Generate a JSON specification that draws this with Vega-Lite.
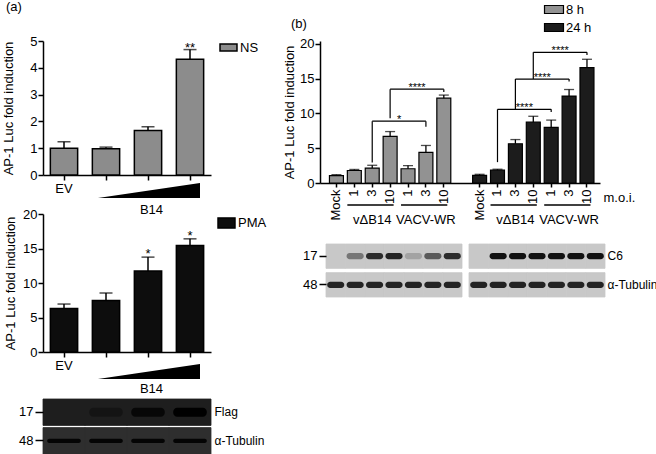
{
  "$schema": "https://vega.github.io/schema/vega-lite/v6.json",
  "background": "white",
  "padding": {"left": 2, "top": 1, "right": 0, "bottom": 0},
  "bounds": "flush",
  "columns": 2,
  "spacing": {"row": 0, "column": 109},
  "datasets": {
    "barsA1": [
      {"construct": "EV", "stimulus": "NS", "fold": 1.0, "upper": 1.24, "sig": ""},
      {"construct": "B14 low", "stimulus": "NS", "fold": 0.98, "upper": 1.04, "sig": ""},
      {"construct": "B14 mid", "stimulus": "NS", "fold": 1.66, "upper": 1.8, "sig": ""},
      {"construct": "B14 high", "stimulus": "NS", "fold": 4.32, "upper": 4.68, "sig": "**"}
    ],
    "barsA2": [
      {"construct": "EV", "stimulus": "PMA", "fold": 6.3, "upper": 6.95, "sig": ""},
      {"construct": "B14 low", "stimulus": "PMA", "fold": 7.45, "upper": 8.55, "sig": ""},
      {"construct": "B14 mid", "stimulus": "PMA", "fold": 11.75, "upper": 13.75, "sig": "*"},
      {"construct": "B14 high", "stimulus": "PMA", "fold": 15.45, "upper": 16.4, "sig": "*"}
    ],
    "wedge": [{"dose": 0}, {"dose": 1}],
    "empty": [],
    "blotA": [
      {"protein": "Flag", "lane": "EV", "intensity": 0.0},
      {"protein": "Flag", "lane": "B14 low", "intensity": 0.3},
      {"protein": "Flag", "lane": "B14 mid", "intensity": 0.75},
      {"protein": "Flag", "lane": "B14 high", "intensity": 1.0},
      {"protein": "α-Tubulin", "lane": "EV", "intensity": 0.9},
      {"protein": "α-Tubulin", "lane": "B14 low", "intensity": 0.9},
      {"protein": "α-Tubulin", "lane": "B14 mid", "intensity": 0.9},
      {"protein": "α-Tubulin", "lane": "B14 high", "intensity": 0.9}
    ],
    "barsB": [
      {"cond": "8h Mock", "time": "8 h", "fold": 1.05, "upper": 1.2},
      {"cond": "8h vΔB14 1", "time": "8 h", "fold": 1.8, "upper": 1.95},
      {"cond": "8h vΔB14 3", "time": "8 h", "fold": 2.15, "upper": 2.55},
      {"cond": "8h vΔB14 10", "time": "8 h", "fold": 6.7, "upper": 7.4},
      {"cond": "8h VACV-WR 1", "time": "8 h", "fold": 2.05, "upper": 2.5},
      {"cond": "8h VACV-WR 3", "time": "8 h", "fold": 4.4, "upper": 5.4},
      {"cond": "8h VACV-WR 10", "time": "8 h", "fold": 12.2, "upper": 12.65},
      {"cond": "24h Mock", "time": "24 h", "fold": 1.1, "upper": 1.25},
      {"cond": "24h vΔB14 1", "time": "24 h", "fold": 1.85, "upper": 1.98},
      {"cond": "24h vΔB14 3", "time": "24 h", "fold": 5.65, "upper": 6.25},
      {"cond": "24h vΔB14 10", "time": "24 h", "fold": 8.75, "upper": 9.6},
      {"cond": "24h VACV-WR 1", "time": "24 h", "fold": 8.0, "upper": 9.05},
      {"cond": "24h VACV-WR 3", "time": "24 h", "fold": 12.5, "upper": 13.45},
      {"cond": "24h VACV-WR 10", "time": "24 h", "fold": 16.6, "upper": 17.8}
    ],
    "brackets": [
      {"from": "8h vΔB14 3", "to": "8h VACV-WR 3", "mid": "8h vΔB14 10", "level": 8.9, "leftEnd": 2.95, "rightEnd": 8.1, "label": "*"},
      {"from": "8h vΔB14 10", "to": "8h VACV-WR 10", "mid": "8h VACV-WR 1", "level": 13.5, "leftEnd": 9.3, "rightEnd": 13.1, "label": "****"},
      {"from": "24h vΔB14 1", "to": "24h VACV-WR 1", "mid": "24h vΔB14 3", "level": 10.6, "leftEnd": 3.0, "rightEnd": 10.2, "label": "****"},
      {"from": "24h vΔB14 3", "to": "24h VACV-WR 3", "mid": "24h vΔB14 10", "level": 14.95, "leftEnd": 10.6, "rightEnd": 14.6, "label": "****"},
      {"from": "24h vΔB14 10", "to": "24h VACV-WR 10", "mid": "24h VACV-WR 1", "level": 18.8, "leftEnd": 14.95, "rightEnd": 18.4, "label": "****"}
    ],
    "groups": [
      {"group": "vΔB14", "start": "8h vΔB14 1", "end": "8h vΔB14 10", "center": "8h vΔB14 3"},
      {"group": "VACV-WR", "start": "8h VACV-WR 1", "end": "8h VACV-WR 10", "center": "8h VACV-WR 3"},
      {"group": "vΔB14", "start": "24h vΔB14 1", "end": "24h vΔB14 10", "center": "24h vΔB14 3"},
      {"group": "VACV-WR", "start": "24h VACV-WR 1", "end": "24h VACV-WR 10", "center": "24h VACV-WR 3"}
    ],
    "blotB": [
      {"time": "8 h", "protein": "C6", "lane": "Mock", "intensity": 0.0},
      {"time": "8 h", "protein": "C6", "lane": "vΔB14 1", "intensity": 0.45},
      {"time": "8 h", "protein": "C6", "lane": "vΔB14 3", "intensity": 0.85},
      {"time": "8 h", "protein": "C6", "lane": "vΔB14 10", "intensity": 0.9},
      {"time": "8 h", "protein": "C6", "lane": "VACV-WR 1", "intensity": 0.2},
      {"time": "8 h", "protein": "C6", "lane": "VACV-WR 3", "intensity": 0.6},
      {"time": "8 h", "protein": "C6", "lane": "VACV-WR 10", "intensity": 0.85},
      {"time": "8 h", "protein": "α-Tubulin", "lane": "Mock", "intensity": 0.9},
      {"time": "8 h", "protein": "α-Tubulin", "lane": "vΔB14 1", "intensity": 0.9},
      {"time": "8 h", "protein": "α-Tubulin", "lane": "vΔB14 3", "intensity": 0.9},
      {"time": "8 h", "protein": "α-Tubulin", "lane": "vΔB14 10", "intensity": 0.9},
      {"time": "8 h", "protein": "α-Tubulin", "lane": "VACV-WR 1", "intensity": 0.9},
      {"time": "8 h", "protein": "α-Tubulin", "lane": "VACV-WR 3", "intensity": 0.9},
      {"time": "8 h", "protein": "α-Tubulin", "lane": "VACV-WR 10", "intensity": 0.9},
      {"time": "24 h", "protein": "C6", "lane": "Mock", "intensity": 0.0},
      {"time": "24 h", "protein": "C6", "lane": "vΔB14 1", "intensity": 1.0},
      {"time": "24 h", "protein": "C6", "lane": "vΔB14 3", "intensity": 1.0},
      {"time": "24 h", "protein": "C6", "lane": "vΔB14 10", "intensity": 1.0},
      {"time": "24 h", "protein": "C6", "lane": "VACV-WR 1", "intensity": 1.0},
      {"time": "24 h", "protein": "C6", "lane": "VACV-WR 3", "intensity": 1.0},
      {"time": "24 h", "protein": "C6", "lane": "VACV-WR 10", "intensity": 1.0},
      {"time": "24 h", "protein": "α-Tubulin", "lane": "Mock", "intensity": 0.9},
      {"time": "24 h", "protein": "α-Tubulin", "lane": "vΔB14 1", "intensity": 0.9},
      {"time": "24 h", "protein": "α-Tubulin", "lane": "vΔB14 3", "intensity": 0.9},
      {"time": "24 h", "protein": "α-Tubulin", "lane": "vΔB14 10", "intensity": 0.9},
      {"time": "24 h", "protein": "α-Tubulin", "lane": "VACV-WR 1", "intensity": 0.9},
      {"time": "24 h", "protein": "α-Tubulin", "lane": "VACV-WR 3", "intensity": 0.9},
      {"time": "24 h", "protein": "α-Tubulin", "lane": "VACV-WR 10", "intensity": 0.9}
    ]
  },
  "concat": [
    {
      "width": 168, "height": 134,
      "title": {"text": "(a)", "anchor": "start", "frame": "group", "dx": -37, "offset": 21},
      "data": {"name": "barsA1"},
      "layer": [
        {
          "mark": {"type": "bar", "stroke": "#000", "strokeWidth": 1.5},
          "encoding": {
            "x": {"field": "construct", "type": "nominal", "scale": {"domain": ["EV", "B14 low", "B14 mid", "B14 high"], "paddingInner": 0.35, "paddingOuter": 0.175},
                  "axis": {"title": null, "labelAngle": 0, "labelExpr": "datum.value === 'EV' ? 'EV' : ''", "labelPadding": 2}},
            "y": {"field": "fold", "type": "quantitative", "scale": {"domain": [0, 5], "nice": false},
                  "axis": {"title": "AP-1 Luc fold induction", "values": [0, 1, 2, 3, 4, 5], "titlePadding": 14, "labelOverlap": false}},
            "fill": {"field": "stimulus", "type": "nominal", "scale": {"range": ["#8c8c8c"]},
                     "legend": {"orient": "none", "legendX": 179, "legendY": 0, "title": null, "symbolType": "M-1.5,-0.62H1.5V0.62H-1.5Z", "symbolSize": 128, "symbolStrokeColor": "#000", "symbolStrokeWidth": 1.5, "labelOffset": 5}}
          }
        },
        {
          "mark": {"type": "rule", "strokeWidth": 1.5, "color": "#000"},
          "encoding": {
            "x": {"field": "construct", "type": "nominal"},
            "y": {"field": "fold", "type": "quantitative", "scale": {"domain": [0, 5], "nice": false},
                  "axis": {"title": "AP-1 Luc fold induction", "values": [0, 1, 2, 3, 4, 5], "titlePadding": 14, "labelOverlap": false}},
            "y2": {"field": "upper"}
          }
        },
        {
          "mark": {"type": "tick", "thickness": 1.5, "size": 13, "color": "#000"},
          "encoding": {
            "x": {"field": "construct", "type": "nominal"},
            "y": {"field": "upper", "type": "quantitative", "scale": {"domain": [0, 5], "nice": false},
                  "axis": {"title": "AP-1 Luc fold induction", "values": [0, 1, 2, 3, 4, 5], "titlePadding": 14, "labelOverlap": false}}
          }
        },
        {
          "mark": {"type": "text", "fontSize": 13, "baseline": "alphabetic", "dy": 2},
          "encoding": {
            "x": {"field": "construct", "type": "nominal"},
            "y": {"field": "upper", "type": "quantitative", "scale": {"domain": [0, 5], "nice": false},
                  "axis": {"title": "AP-1 Luc fold induction", "values": [0, 1, 2, 3, 4, 5], "titlePadding": 14, "labelOverlap": false}},
            "text": {"field": "sig"}
          }
        }
      ]
    },
    {
      "width": 280, "height": 142,
      "title": {"text": "(b)", "anchor": "start", "frame": "group", "dx": -29, "offset": -28},
      "layer": [
        {
          "data": {"name": "barsB"},
          "mark": {"type": "bar", "stroke": "#000", "strokeWidth": 1.2},
          "encoding": {
            "x": {"field": "cond", "type": "nominal",
                  "scale": {"domain": ["8h Mock", "8h vΔB14 1", "8h vΔB14 3", "8h vΔB14 10", "8h VACV-WR 1", "8h VACV-WR 3", "8h VACV-WR 10", "gap", "24h Mock", "24h vΔB14 1", "24h vΔB14 3", "24h vΔB14 10", "24h VACV-WR 1", "24h VACV-WR 3", "24h VACV-WR 10"], "paddingInner": 0.22, "paddingOuter": 0.433, "align": 0.61},
                  "axis": {"title": "m.o.i.", "values": ["8h Mock", "8h vΔB14 1", "8h vΔB14 3", "8h vΔB14 10", "8h VACV-WR 1", "8h VACV-WR 3", "8h VACV-WR 10", "24h Mock", "24h vΔB14 1", "24h vΔB14 3", "24h vΔB14 10", "24h VACV-WR 1", "24h VACV-WR 3", "24h VACV-WR 10"],
                           "labelExpr": "peek(split(datum.value, ' '))", "labelAngle": -90, "tickSize": 4, "labelPadding": 2,
                           "titleAngle": 0, "titleAlign": "left", "titleBaseline": "middle", "titleX": 283, "titleY": 14}},
            "y": {"field": "fold", "type": "quantitative", "scale": {"domain": [0, 20.43], "nice": false},
                  "axis": {"title": "AP-1 Luc fold induction", "values": [0, 5, 10, 15, 20], "titlePadding": 3, "labelOverlap": false}},
            "fill": {"field": "time", "type": "nominal", "scale": {"domain": ["8 h", "24 h"], "range": ["#929292", "#1c1c1c"]},
                     "legend": {"orient": "none", "legendX": 227, "legendY": -38.5, "title": null, "symbolType": "M-1.5,-0.63H1.5V0.63H-1.5Z", "symbolSize": 160, "symbolStrokeColor": "#000", "symbolStrokeWidth": 1.2, "labelOffset": 5, "rowPadding": 4}}
          }
        },
        {
          "data": {"name": "barsB"},
          "mark": {"type": "rule", "strokeWidth": 1.3, "color": "#000"},
          "encoding": {
            "x": {"field": "cond", "type": "nominal"},
            "y": {"field": "fold", "type": "quantitative", "scale": {"domain": [0, 20.43], "nice": false},
                  "axis": {"title": "AP-1 Luc fold induction", "values": [0, 5, 10, 15, 20], "titlePadding": 3, "labelOverlap": false}},
            "y2": {"field": "upper"}
          }
        },
        {
          "data": {"name": "barsB"},
          "mark": {"type": "tick", "thickness": 1.3, "size": 10, "color": "#000"},
          "encoding": {
            "x": {"field": "cond", "type": "nominal"},
            "y": {"field": "upper", "type": "quantitative", "scale": {"domain": [0, 20.43], "nice": false},
                  "axis": {"title": "AP-1 Luc fold induction", "values": [0, 5, 10, 15, 20], "titlePadding": 3, "labelOverlap": false}}
          }
        },
        {
          "data": {"name": "brackets"},
          "mark": {"type": "rule", "strokeWidth": 1.2, "color": "#000"},
          "encoding": {
            "x": {"field": "from", "type": "nominal"},
            "x2": {"field": "to"},
            "y": {"field": "level", "type": "quantitative", "scale": {"domain": [0, 20.43], "nice": false},
                  "axis": {"title": "AP-1 Luc fold induction", "values": [0, 5, 10, 15, 20], "titlePadding": 3, "labelOverlap": false}}
          }
        },
        {
          "data": {"name": "brackets"},
          "mark": {"type": "rule", "strokeWidth": 1.2, "color": "#000"},
          "encoding": {
            "x": {"field": "from", "type": "nominal"},
            "y": {"field": "leftEnd", "type": "quantitative", "scale": {"domain": [0, 20.43], "nice": false},
                  "axis": {"title": "AP-1 Luc fold induction", "values": [0, 5, 10, 15, 20], "titlePadding": 3, "labelOverlap": false}},
            "y2": {"field": "level"}
          }
        },
        {
          "data": {"name": "brackets"},
          "mark": {"type": "rule", "strokeWidth": 1.2, "color": "#000"},
          "encoding": {
            "x": {"field": "to", "type": "nominal"},
            "y": {"field": "rightEnd", "type": "quantitative", "scale": {"domain": [0, 20.43], "nice": false},
                  "axis": {"title": "AP-1 Luc fold induction", "values": [0, 5, 10, 15, 20], "titlePadding": 3, "labelOverlap": false}},
            "y2": {"field": "level"}
          }
        },
        {
          "data": {"name": "brackets"},
          "mark": {"type": "text", "fontSize": 11, "baseline": "alphabetic", "dy": 2, "dx": 2, "color": "#000"},
          "encoding": {
            "x": {"field": "mid", "type": "nominal", "bandPosition": 1},
            "y": {"field": "level", "type": "quantitative", "scale": {"domain": [0, 20.43], "nice": false},
                  "axis": {"title": "AP-1 Luc fold induction", "values": [0, 5, 10, 15, 20], "titlePadding": 3, "labelOverlap": false}},
            "text": {"field": "label"}
          }
        }
      ]
    },
    {
      "width": 168, "height": 31,
      "data": {"name": "wedge"},
      "mark": {"type": "area", "color": "#000"},
      "encoding": {
        "x": {"field": "dose", "type": "quantitative", "scale": {"domain": [-0.539, 1.108], "nice": false, "zero": false},
              "axis": {"title": "B14", "domain": false, "ticks": false, "labels": false, "titleX": 108, "titleY": -5, "titleBaseline": "middle"}},
        "y": {"field": "dose", "type": "quantitative", "scale": {"domain": [-1.067, 1], "nice": false, "zero": false}, "axis": null},
        "y2": {"datum": 0}
      }
    },
    {
      "width": 280, "height": 31,
      "data": {"name": "groups"},
      "layer": [
        {
          "mark": {"type": "rule", "strokeWidth": 1.5, "color": "#000"},
          "encoding": {
            "x": {"field": "start", "type": "nominal", "bandPosition": 0,
                  "scale": {"domain": ["8h Mock", "8h vΔB14 1", "8h vΔB14 3", "8h vΔB14 10", "8h VACV-WR 1", "8h VACV-WR 3", "8h VACV-WR 10", "gap", "24h Mock", "24h vΔB14 1", "24h vΔB14 3", "24h vΔB14 10", "24h VACV-WR 1", "24h VACV-WR 3", "24h VACV-WR 10"], "paddingInner": 0.22, "paddingOuter": 0.433, "align": 0.61},
                  "axis": null},
            "x2": {"field": "end", "bandPosition": 0.75},
            "y": {"datum": 0.29, "type": "quantitative", "scale": {"domain": [0, 1]}, "axis": null}
          }
        },
        {
          "mark": {"type": "text", "fontSize": 13, "baseline": "middle"},
          "encoding": {
            "x": {"field": "center", "type": "nominal", "axis": null},
            "y": {"datum": -0.18, "type": "quantitative", "axis": null},
            "text": {"field": "group"}
          }
        }
      ]
    },
    {
      "width": 168, "height": 138,
      "data": {"name": "barsA2"},
      "layer": [
        {
          "mark": {"type": "bar", "stroke": "#000", "strokeWidth": 1.5},
          "encoding": {
            "x": {"field": "construct", "type": "nominal", "scale": {"domain": ["EV", "B14 low", "B14 mid", "B14 high"], "paddingInner": 0.35, "paddingOuter": 0.175},
                  "axis": {"title": null, "labelAngle": 0, "labelExpr": "datum.value === 'EV' ? 'EV' : ''", "labelPadding": 2}},
            "y": {"field": "fold", "type": "quantitative", "scale": {"domain": [0, 20], "nice": false},
                  "axis": {"title": "AP-1 Luc fold induction", "values": [0, 5, 10, 15, 20], "titlePadding": 5, "labelOverlap": false}},
            "fill": {"field": "stimulus", "type": "nominal", "scale": {"range": ["#0d0d0d"]},
                     "legend": {"orient": "none", "legendX": 177, "legendY": 2.5, "title": null, "symbolType": "M-1.5,-0.9H1.5V0.9H-1.5Z", "symbolSize": 128, "symbolStrokeColor": "#000", "symbolStrokeWidth": 1.5, "labelOffset": 5}}
          }
        },
        {
          "mark": {"type": "rule", "strokeWidth": 1.5, "color": "#000"},
          "encoding": {
            "x": {"field": "construct", "type": "nominal"},
            "y": {"field": "fold", "type": "quantitative", "scale": {"domain": [0, 20], "nice": false},
                  "axis": {"title": "AP-1 Luc fold induction", "values": [0, 5, 10, 15, 20], "titlePadding": 5, "labelOverlap": false}},
            "y2": {"field": "upper"}
          }
        },
        {
          "mark": {"type": "tick", "thickness": 1.5, "size": 13, "color": "#000"},
          "encoding": {
            "x": {"field": "construct", "type": "nominal"},
            "y": {"field": "upper", "type": "quantitative", "scale": {"domain": [0, 20], "nice": false},
                  "axis": {"title": "AP-1 Luc fold induction", "values": [0, 5, 10, 15, 20], "titlePadding": 5, "labelOverlap": false}}
          }
        },
        {
          "mark": {"type": "text", "fontSize": 13, "baseline": "alphabetic", "dy": 1},
          "encoding": {
            "x": {"field": "construct", "type": "nominal"},
            "y": {"field": "upper", "type": "quantitative", "scale": {"domain": [0, 20], "nice": false},
                  "axis": {"title": "AP-1 Luc fold induction", "values": [0, 5, 10, 15, 20], "titlePadding": 5, "labelOverlap": false}},
            "text": {"field": "sig"}
          }
        }
      ]
    },
    {
      "width": 285, "height": 83,
      "data": {"name": "blotB"},
      "layer": [
        {
          "mark": {"type": "rect", "fill": "#c8c8c8", "stroke": "#c8c8c8", "strokeWidth": 0.8},
          "encoding": {
            "x": {"field": "time", "type": "nominal", "scale": {"domain": ["8 h", "24 h"], "paddingInner": 0.049, "paddingOuter": 0.021, "align": 1}, "axis": null},
            "xOffset": {"field": "lane", "type": "nominal", "scale": {"domain": ["Mock", "vΔB14 1", "vΔB14 3", "vΔB14 10", "VACV-WR 1", "VACV-WR 3", "VACV-WR 10"], "paddingInner": 0, "paddingOuter": 0}},
            "y": {"field": "protein", "type": "nominal", "scale": {"domain": ["C6", "α-Tubulin"], "paddingInner": 0.15, "paddingOuter": 0.524, "align": 1},
                  "axis": {"orient": "right", "title": null, "domain": false, "ticks": false, "labelPadding": 2, "labelFontSize": 12}}
          }
        },
        {
          "mark": {"type": "rect", "fill": "#111", "height": {"band": 0.26}, "cornerRadius": 3},
          "encoding": {
            "x": {"field": "time", "type": "nominal", "scale": {"domain": ["8 h", "24 h"], "paddingInner": 0.049, "paddingOuter": 0.021, "align": 1}, "axis": null},
            "xOffset": {"field": "lane", "type": "nominal", "scale": {"domain": ["Mock", "vΔB14 1", "vΔB14 3", "vΔB14 10", "VACV-WR 1", "VACV-WR 3", "VACV-WR 10"], "paddingInner": 0.12, "paddingOuter": 0.06}},
            "y": {"field": "protein", "type": "nominal", "scale": {"domain": ["C6", "α-Tubulin"], "paddingInner": 0.15, "paddingOuter": 0.524, "align": 1},
                  "axis": {"orient": "left", "title": null, "domain": false, "labelExpr": "datum.value === 'C6' ? '17' : '48'", "tickSize": 7, "offset": -6, "labelPadding": 2}},
            "opacity": {"field": "intensity", "type": "quantitative", "scale": null}
          }
        }
      ],
      "resolve": {"scale": {"y": "independent", "xOffset": "independent"}}
    },
    {
      "width": 168, "height": 47,
      "data": {"name": "wedge"},
      "mark": {"type": "area", "color": "#000"},
      "encoding": {
        "x": {"field": "dose", "type": "quantitative", "scale": {"domain": [-0.539, 1.108], "nice": false, "zero": false},
              "axis": {"title": "B14", "domain": false, "ticks": false, "labels": false, "titleX": 108, "titleY": -10.3, "titleBaseline": "middle"}},
        "y": {"field": "dose", "type": "quantitative", "scale": {"domain": [-1.333, 1.8], "nice": false, "zero": false}, "axis": null},
        "y2": {"datum": 0}
      }
    },
    {"width": 1, "height": 1, "data": {"name": "empty"}, "mark": "point"},
    {
      "width": 168, "height": 55,
      "data": {"name": "blotA"},
      "layer": [
        {
          "mark": {"type": "rect", "strokeWidth": 0.8},
          "encoding": {
            "x": {"field": "lane", "type": "nominal", "scale": {"domain": ["EV", "B14 low", "B14 mid", "B14 high"], "paddingInner": 0, "paddingOuter": 0}, "axis": null},
            "y": {"field": "protein", "type": "nominal", "scale": {"domain": ["Flag", "α-Tubulin"], "paddingInner": 0.075, "paddingOuter": 0},
                  "axis": {"orient": "right", "title": null, "domain": false, "ticks": false, "labelPadding": 3, "labelFontSize": 12}},
            "fill": {"condition": {"test": "datum.protein === 'Flag'", "value": "#1e1e1e"}, "value": "#2e2e2e"},
            "stroke": {"condition": {"test": "datum.protein === 'Flag'", "value": "#1e1e1e"}, "value": "#2e2e2e"}
          }
        },
        {
          "transform": [{"filter": "datum.protein === 'Flag'"}],
          "mark": {"type": "rect", "fill": "#000", "width": {"band": 0.8}, "height": {"band": 0.34}, "cornerRadius": 4},
          "encoding": {
            "x": {"field": "lane", "type": "nominal", "scale": {"domain": ["EV", "B14 low", "B14 mid", "B14 high"], "paddingInner": 0, "paddingOuter": 0}, "axis": null},
            "y": {"field": "protein", "type": "nominal", "scale": {"domain": ["Flag", "α-Tubulin"], "paddingInner": 0.075, "paddingOuter": 0},
                  "axis": {"orient": "left", "title": null, "domain": false, "labelExpr": "datum.value === 'Flag' ? '17' : '48'", "tickSize": 8, "labelPadding": 2}},
            "opacity": {"field": "intensity", "type": "quantitative", "scale": null}
          }
        },
        {
          "transform": [{"filter": "datum.protein !== 'Flag'"}],
          "mark": {"type": "rect", "fill": "#000", "width": {"band": 0.8}, "height": {"band": 0.16}, "cornerRadius": 2},
          "encoding": {
            "x": {"field": "lane", "type": "nominal", "scale": {"domain": ["EV", "B14 low", "B14 mid", "B14 high"], "paddingInner": 0, "paddingOuter": 0}, "axis": null},
            "y": {"field": "protein", "type": "nominal", "scale": {"domain": ["Flag", "α-Tubulin"], "paddingInner": 0.075, "paddingOuter": 0}, "axis": null},
            "opacity": {"field": "intensity", "type": "quantitative", "scale": null}
          }
        }
      ],
      "resolve": {"scale": {"y": "independent"}}
    }
  ],
  "resolve": {"scale": {"fill": "independent"}, "legend": {"fill": "independent"}},
  "config": {
    "font": "Liberation Sans",
    "view": {"stroke": null},
    "axis": {"domainColor": "#000", "domainWidth": 1.5, "tickColor": "#000", "tickWidth": 1.5, "tickSize": 5, "labelColor": "#000", "labelFontSize": 13, "labelPadding": 1, "titleColor": "#000", "titleFontSize": 13, "titleFontWeight": "normal", "grid": false},
    "legend": {"padding": 0, "labelFontSize": 13, "labelColor": "#000"},
    "title": {"fontWeight": "normal", "fontSize": 13, "color": "#000"}
  }
}
